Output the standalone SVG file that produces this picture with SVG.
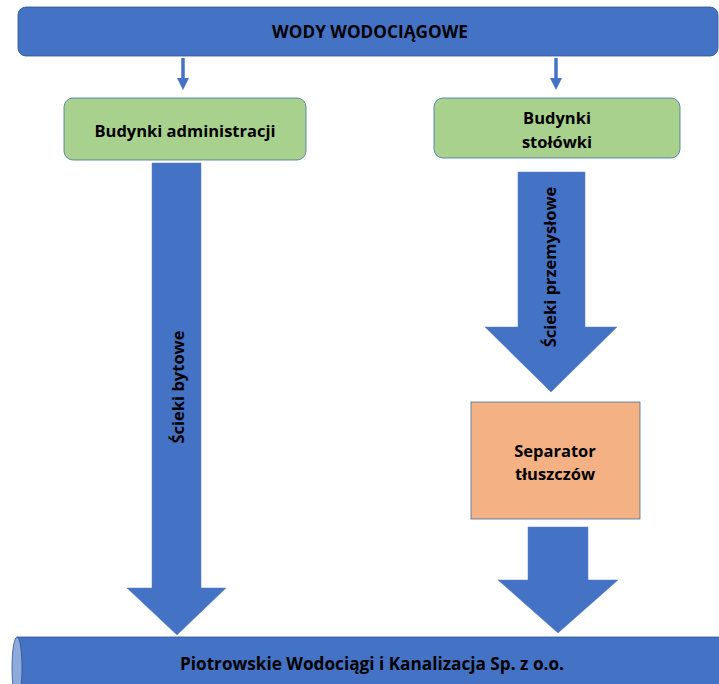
<svg xmlns="http://www.w3.org/2000/svg" width="719" height="684" viewBox="0 0 719 684">
<style>
.t{font-family:"Open Sans","Liberation Sans",sans-serif;font-weight:bold;font-size:16.5px;fill:#000;text-anchor:middle;dominant-baseline:central}
.big{font-size:17.2px}
.blue{fill:#4472C4;stroke:#2F528F;stroke-width:0.8}
.arrow{fill:#4472C4;stroke:#5B7EC4;stroke-width:0.5}
</style>
<rect width="719" height="684" fill="#fff"/>
<g id="top">
<rect x="18" y="7" width="700" height="49" rx="8" class="blue"/>
<text class="t big" x="370" y="31">WODY WODOCIĄGOWE</text>
</g>
<g id="connectors">
<path d="M183 58 V80" stroke="#4472C4" stroke-width="3.5"/>
<path d="M177 78 H189 L183 90 Z" fill="#4472C4"/>
<path d="M556 58 V80" stroke="#4472C4" stroke-width="3.5"/>
<path d="M550 78 H562 L556 90 Z" fill="#4472C4"/>
<g id="arrow-bytowe">
<path class="arrow" d="M152 163 H201 V588 H226 L177 635 L127 588 H152 Z"/>
<text class="t" transform="translate(177 387) rotate(-90)">Ścieki bytowe</text>
</g>
<g id="arrow-przemyslowe">
<path class="arrow" d="M518 172 H585 V327 H617 L551 392 L485 327 H518 Z"/>
<text class="t" transform="translate(549 267) rotate(-90)">Ścieki przemysłowe</text>
</g>
<path class="arrow" d="M528 527 H588 V580 H618 L558 633 L498 580 H528 Z"/>
</g>
<g id="admin">
<rect x="64" y="98" width="242" height="62" rx="9" fill="#A9D18E" stroke="#41719C" stroke-width="0.8"/>
<text class="t" x="185" y="130">Budynki administracji</text>
</g>
<g id="stolowki">
<rect x="434" y="98" width="246" height="60" rx="9" fill="#A9D18E" stroke="#41719C" stroke-width="0.8"/>
<text class="t" x="557" y="117">Budynki</text>
<text class="t" x="557" y="141">stołówki</text>
</g>
<g id="separator">
<rect x="471" y="402" width="169" height="117" fill="#F4B183" stroke="#41719C" stroke-width="0.8"/>
<text class="t" x="555" y="450">Separator</text>
<text class="t" x="555" y="473">tłuszczów</text>
</g>
<g id="pwik">
<path d="M17 637 H730 V700 H17 Z" fill="#4472C4" stroke="#2F528F" stroke-width="0.8"/>
<ellipse cx="17" cy="668" rx="5" ry="31" fill="#8FAADC" stroke="#2F528F" stroke-width="0.8"/>
<text class="t big" x="372" y="663">Piotrowskie Wodociągi i Kanalizacja Sp. z o.o.</text>
</g>
</svg>
